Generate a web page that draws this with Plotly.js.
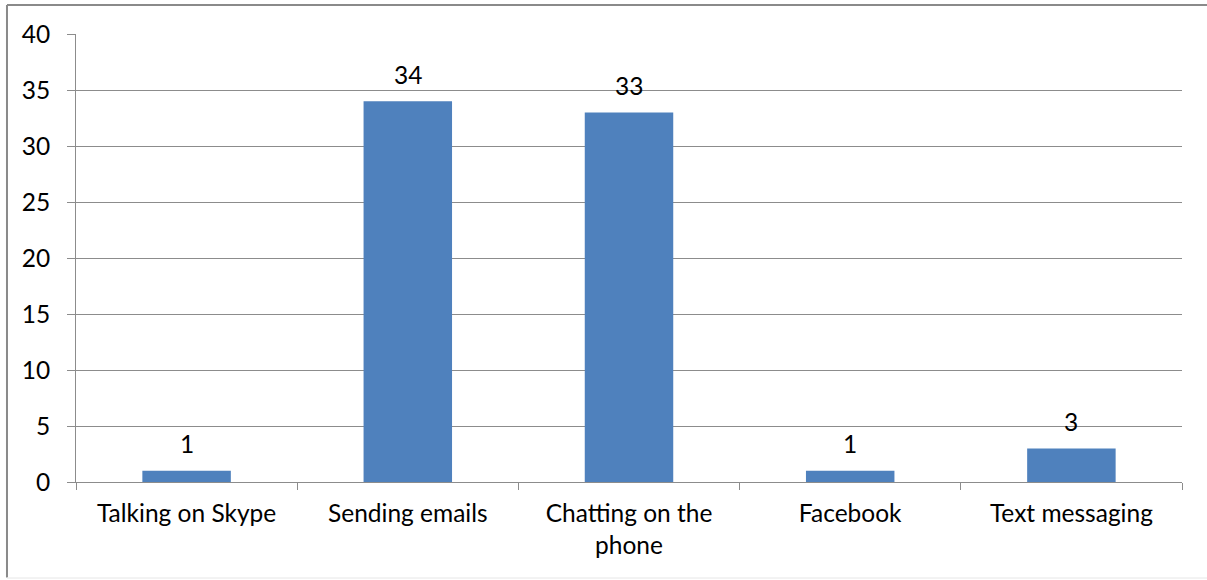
<!DOCTYPE html>
<html>
<head>
<meta charset="utf-8">
<script src="https://cdn.plot.ly/plotly-3.0.1.min.js"></script>
<style>html,body{margin:0;padding:0;background:#fff;}#chart{width:1207px;height:580px;}</style>
</head>
<body>
<div id="chart"></div>
<script>
const categories = ["Talking on Skype", "Sending emails", "Chatting on the<br>phone", "Facebook", "Text messaging"];
const values = [1, 34, 33, 1, 3];
const yTicks = [0, 5, 10, 15, 20, 25, 30, 35, 40];

const FONT = "Lato, 'Open Sans', sans-serif";
const FS = 24.5;
const GRID = "#8c8c8c";

const trace = {
  type: "bar",
  x: categories,
  y: values,
  marker: {color: "#4f81bd"},
  hoverinfo: "x+y"
};

const annotations = categories.map((c, i) => ({
  x: c, y: values[i], xref: "x", yref: "y",
  text: String(values[i]), showarrow: false,
  yanchor: "middle", yshift: 27,
  font: {family: FONT, size: FS, color: "#000"}
}));

const shapes = [
  {type: "line", xref: "paper", yref: "paper", x0: -0.0624, x1: -0.0624, y0: -0.213, y1: 1.0647,
   line: {color: "#8a8a8a", width: 2}, layer: "below"},
  {type: "line", xref: "paper", yref: "paper", x0: -0.0624, x1: 1.05, y0: 1.0647, y1: 1.0647,
   line: {color: "#8a8a8a", width: 2}, layer: "below"},
  {type: "line", xref: "paper", yref: "paper", x0: -0.0624, x1: 1.05, y0: -0.2143, y1: -0.2143,
   line: {color: "#e6e6e6", width: 1}, layer: "below"}
];

const layout = {
  width: 1207, height: 580,
  margin: {l: 76, r: 25, t: 34, b: 98, pad: 0},
  paper_bgcolor: "#fff", plot_bgcolor: "#fff",
  showlegend: false,
  bargap: 0.6,
  font: {family: FONT, size: FS, color: "#000"},
  xaxis: {
    type: "category",
    showgrid: false,
    showline: true, linecolor: GRID, linewidth: 1,
    ticks: "outside", tickson: "boundaries", ticklen: 7, tickcolor: GRID, tickwidth: 1,
    ticklabelstandoff: 10,
    tickfont: {family: FONT, size: FS, color: "#000"}
  },
  yaxis: {
    range: [0, 40],
    tickvals: yTicks,
    ticktext: yTicks.map(String),
    showgrid: true, gridcolor: GRID, gridwidth: 1,
    zeroline: false,
    showline: true, linecolor: GRID, linewidth: 1,
    ticks: "outside", ticklen: 8, tickcolor: GRID, tickwidth: 1,
    ticklabelstandoff: 12,
    tickfont: {family: FONT, size: FS, color: "#000"}
  },
  annotations: annotations,
  shapes: shapes
};

Plotly.newPlot("chart", [trace], layout, {displayModeBar: false, staticPlot: true});
</script>
</body>
</html>
